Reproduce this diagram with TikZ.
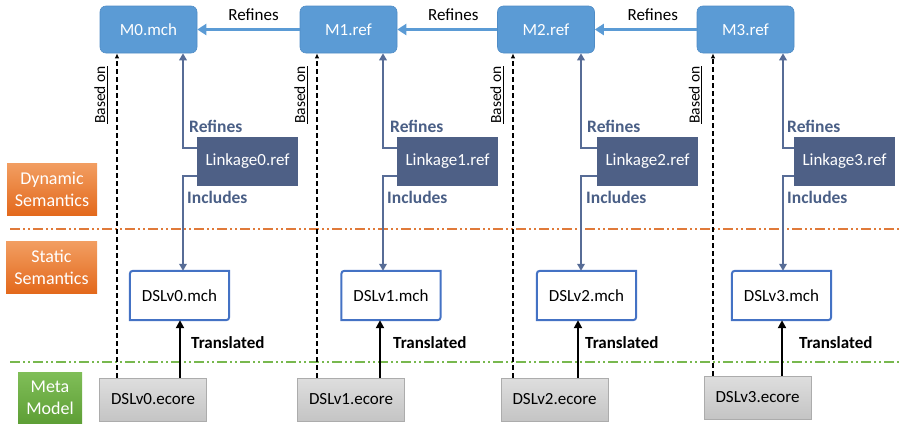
\documentclass[tikz,border=0pt]{standalone}
\usepackage{fontspec}
\setmainfont{Carlito}
\usetikzlibrary{arrows.meta,calc}
\definecolor{mblue}{HTML}{5B9BD5}
\definecolor{mbluedark}{HTML}{4F8CC6}
\definecolor{linkfill}{HTML}{4E6086}
\definecolor{linkline}{HTML}{576C96}
\definecolor{linktext}{HTML}{4A5F86}
\definecolor{dslblue}{HTML}{4472C4}
\definecolor{orangeA}{HTML}{F29E62}
\definecolor{orangeB}{HTML}{E3691C}
\definecolor{greenA}{HTML}{80BE58}
\definecolor{greenB}{HTML}{5E9F36}
\definecolor{orangeline}{HTML}{E07A3A}
\definecolor{greenline}{HTML}{78B84E}
\newcommand{\mchborder}[1]{%
  \draw[dslblue,line width=2pt,fill=white] ($(#1.north west)+(7,0)$) -- (#1.north east) -- ($(#1.south east)+(0,-7)$) .. controls (#1.south east) .. ($(#1.south east)+(-7,0)$) -- (#1.south west) -- ($(#1.north west)+(0,7)$) .. controls (#1.north west) .. ($(#1.north west)+(7,0)$) -- cycle;}
\begin{document}
\begin{tikzpicture}[x=1pt,y=-1pt,
  boxfont/.style={font=\fontsize{17}{20}\selectfont},
  mbox/.style={boxfont,fill=mblue,draw=mbluedark,line width=0.6pt,rounded corners=6pt,text=white,minimum width=97pt,minimum height=47pt,inner sep=0pt},
  linkbox/.style={boxfont,fill=linkfill,draw=none,text=white,minimum width=101pt,minimum height=49pt,inner sep=0pt},
  dslbox/.style={boxfont,minimum width=99pt,minimum height=49pt,inner sep=0pt},
  ecorebox/.style={boxfont,top color=gray!26,bottom color=gray!46,draw=gray!65,line width=0.6pt,minimum width=107pt,minimum height=43pt,inner sep=0pt},
  sidebox/.style={font=\fontsize{18}{22}\selectfont,text=white,align=center,inner sep=0pt},
  refarrow/.style={draw=mblue,line width=3.5pt,-{Triangle[width=11pt,length=9pt]}},
  linkarrow/.style={draw=linkline,line width=2.4pt,-{Triangle[width=7.5pt,length=7pt]}},
  transarrow/.style={draw=black,line width=2.6pt,-{Triangle[width=8pt,length=8pt]}},
  basedarrow/.style={draw=black,line width=1.3pt,dash pattern=on 5pt off 3pt,-{Latex[width=4.5pt,length=5pt]}},
  toplabel/.style={font=\fontsize{17}{20}\selectfont,inner sep=0pt},
  linklabel/.style={font=\fontsize{17.5}{20}\selectfont\bfseries,text=linktext,inner sep=0pt,anchor=west},
  translabel/.style={font=\fontsize{17}{20}\selectfont\bfseries,inner sep=0pt,anchor=west},
  basedlabel/.style={font=\fontsize{15.5}{18}\selectfont,inner sep=0pt,rotate=90,anchor=south},
  sepline/.style={line width=1.5pt,dash pattern=on 10pt off 3pt on 2pt off 3pt on 2pt off 3pt}
]
\useasboundingbox (0,0) rectangle (899,423);

% separator lines
\coordinate (ol) at (10,229);
\coordinate (or) at (899,229);
\coordinate (gl) at (10,362);
\coordinate (gr) at (899,362);
\draw[sepline,orangeline] (ol) -- (or);
\draw[sepline,greenline] (gl) -- (gr);

% side labels
\node[sidebox,minimum width=90pt,minimum height=52pt,top color=orangeA,bottom color=orangeB] (dyn) at (52,189) {Dynamic\\Semantics};
\node[sidebox,minimum width=91pt,minimum height=52pt,top color=orangeA,bottom color=orangeB] (sta) at (51.5,267) {Static\\Semantics};
\node[sidebox,minimum width=64pt,minimum height=51pt,top color=greenA,bottom color=greenB] (meta) at (50,397.5) {Meta\\Model};

% M boxes
\node[mbox] (M0) at (148.5,29.5) {M0.mch};
\node[mbox] (M1) at (348.5,29.5) {M1.ref};
\node[mbox] (M2) at (546,29.5) {M2.ref};
\node[mbox] (M3) at (745.5,29.5) {M3.ref};

% Linkage boxes
\node[linkbox] (L0) at (247.5,161.5) {Linkage0.ref};
\node[linkbox] (L1) at (447.5,161.5) {Linkage1.ref};
\node[linkbox] (L2) at (647.5,161.5) {Linkage2.ref};
\node[linkbox] (L3) at (844.5,161.5) {Linkage3.ref};

% DSL mch boxes
\node[dslbox] (D0) at (179.5,295.5) {};
\node[dslbox] (D1) at (391,295.5) {};
\node[dslbox] (D2) at (586.5,295.5) {};
\node[dslbox] (D3) at (781.5,295.5) {};
\mchborder{D0}\mchborder{D1}\mchborder{D2}\mchborder{D3}
\node[boxfont] at (D0) {DSLv0.mch};
\node[boxfont] at (D1) {DSLv1.mch};
\node[boxfont] at (D2) {DSLv2.mch};
\node[boxfont] at (D3) {DSLv3.mch};

% ecore boxes
\node[ecorebox] (E0) at (153,399.5) {DSLv0.ecore};
\node[ecorebox] (E1) at (351,399.5) {DSLv1.ecore};
\node[ecorebox] (E2) at (554.5,399.5) {DSLv2.ecore};
\node[ecorebox] (E3) at (757.5,397.5) {DSLv3.ecore};

% top refines arrows
\draw[refarrow] (M1.west) -- node[toplabel,xshift=5pt,yshift=14.5pt]{Refines} (M0.east);
\draw[refarrow] (M2.west) -- node[toplabel,xshift=6pt,yshift=14.5pt]{Refines} (M1.east);
\draw[refarrow] (M3.west) -- node[toplabel,xshift=7pt,yshift=14.5pt]{Refines} (M2.east);

% column x coordinates
\coordinate (a0) at (183,0);
\coordinate (a1) at (383,0);
\coordinate (a2) at (581,0);
\coordinate (a3) at (783,0);
\coordinate (b0) at (117,0);
\coordinate (b1) at (317,0);
\coordinate (b2) at (513,0);
\coordinate (b3) at (713,0);
\coordinate (t0) at (180,0);
\coordinate (t1) at (380,0);
\coordinate (t2) at (578,0);
\coordinate (t3) at (782,0);

% linkage arrows and labels
\foreach \i in {0,1,2,3}{
  \draw[linkarrow] ([yshift=-11pt]L\i.north west) -| (a\i |- M\i.south);
  \draw[linkarrow] ([yshift=10pt]L\i.south west) -| (a\i |- D\i.north);
  \draw[basedarrow] (b\i |- E\i.north) -- (b\i |- M\i.south);
  \draw[transarrow] (t\i |- E\i.north) -- (t\i |- D\i.south);
}
\node[linklabel] (r0) at (189,126) {Refines};
\node[linklabel] (r1) at (390,126) {Refines};
\node[linklabel] (r2) at (587,126) {Refines};
\node[linklabel] (r3) at (787,126) {Refines};
\node[linklabel] (i0) at (187,197) {Includes};
\node[linklabel] (i1) at (387,197) {Includes};
\node[linklabel] (i2) at (586,197) {Includes};
\node[linklabel] (i3) at (787,197) {Includes};

% translated labels
\node[translabel] (tl0) at (191,343) {Translated};
\node[translabel] (tl1) at (393,343) {Translated};
\node[translabel] (tl2) at (585,343) {Translated};
\node[translabel] (tl3) at (799,343) {Translated};

% based on labels
\node[basedlabel] (bl0) at (107.5,95) {\underline{Based on}};
\node[basedlabel] (bl1) at (307.5,95) {\underline{Based on}};
\node[basedlabel] (bl2) at (503.5,95) {\underline{Based on}};
\node[basedlabel] (bl3) at (702,95) {\underline{Based on}};
\end{tikzpicture}
\end{document}
